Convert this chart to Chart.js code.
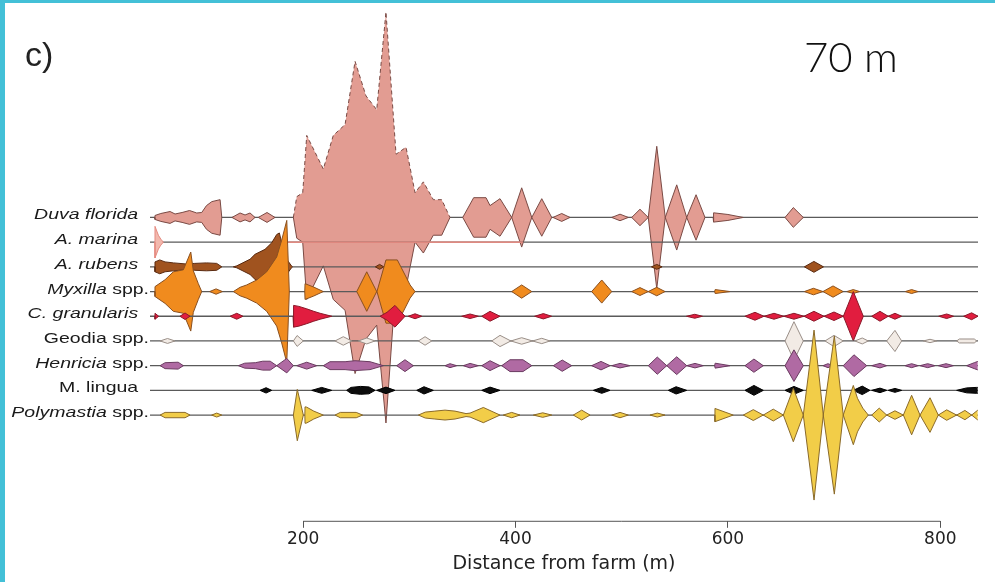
<!DOCTYPE html>
<html>
<head>
<meta charset="utf-8">
<script src="https://cdn.jsdelivr.net/npm/chart.js@4.4.1/dist/chart.umd.min.js"></script>
<style>
  html, body { margin: 0; padding: 0; background: #fff; }
  #kite { display: block; }
</style>
</head>
<body>
<canvas id="kite" width="995" height="582"></canvas>
<script>
// rows, top to bottom: italic part + plain part of each label
const labelItalic = ['Duva florida', 'A. marina', 'A. rubens', 'Myxilla', 'C. granularis', '', 'Henricia', '', 'Polymastia'];
const labelPlain = ['  ', '  ', '  ', ' spp.', '  ', 'Geodia spp.', ' spp.', 'M. lingua  ', ' spp.'];
const xTicks = [200, 400, 600, 800];
const xRange = [55.8, 835.5];
const panelLetter = 'c)';
const panelDepth = '70 m';

// [distance from farm (m), abundance] for each species
const duvaFlorida = [
  [60, 0], [60.5, 2], [66, 4], [74.7, 6], [79.4, 3.5], [86, 5], [93, 7], [99.8, 4.5], [104.5, 5], [109, 12], [114, 16], [121.8, 18], [123.4, 0],
  [133, 0], [140.6, 4.5], [145.3, 2.5], [150, 4.5], [154.7, 0],
  [157.8, 0], [166, 5], [173.5, 0],
  [190.8, 0], [194, 21], [199.6, 25], [203.4, 83], [219, 49], [228.4, 83], [239.5, 94], [248.9, 158], [259.2, 123], [269.3, 109], [278, 208],
  [287.5, 64], [296.9, 71], [305.4, 25], [313.2, 36], [322.6, 18], [330.5, 18], [338.3, 0],
  [350.3, 0], [360.6, 20], [372.2, 20], [376, 12], [385.4, 19], [396.4, 0], [405.8, 30], [415.3, 0], [424.7, 19], [434.1, 0],
  [435.3, 0], [443.5, 4], [451.3, 0],
  [490.6, 0], [498.4, 3.3], [506.2, 0],
  [509.4, 0], [517.2, 8.3], [525, 0], [533, 72], [541, 0], [551.8, 33], [561.2, 0], [570, 23], [578.4, 0],
  [586.1, 0], [586.5, 4.7], [600, 3], [614.4, 0],
  [653.8, 0], [661.6, 10], [671, 0]
];
const aMarina = [
  [60.4, 0], [60.5, 16], [63.7, 7], [66, 3], [68.4, 0],
  [186, 0], [186.5, 0.2], [406.5, 0.2], [407, 0]
];
const aRubens = [
  [60.4, 0], [60.5, 5], [65, 7], [70, 5], [78, 4], [89, 3], [98, 3.5], [109, 4], [118.6, 3.5], [123.4, 0],
  [134.3, 0], [137.5, 1], [150, 7.7], [154.7, 12.7], [164.1, 17.7], [170.4, 24.3], [175.1, 32.7], [177.6, 34.3], [183, 10], [189, 1], [190, 0],
  [268, 0], [272, 2.5], [276, 0],
  [528, 0], [533, 2.5], [538, 0],
  [672, 0], [681, 5.5], [690, 0]
];
const myxilla = [
  [60.4, 0], [60.5, 5], [70, 12], [77.8, 20], [87.2, 22], [94.2, 40], [96.6, 21], [101.3, 8], [104.5, 0],
  [112, 0], [118, 2.7], [124, 0],
  [134.3, 0], [140.6, 4.3], [146.9, 6.7], [156.3, 11.7], [165.7, 20], [175.1, 35], [179.8, 52], [184.6, 72], [187, 0],
  [201.5, 0], [201.8, 8], [210, 4.5], [219, 0],
  [250.5, 0], [259.9, 20], [269.3, 0],
  [269.5, 0], [278, 32], [288.7, 32], [296, 16.7], [300.7, 6.7], [305.4, 0],
  [396.4, 0], [405.8, 6.7], [415.3, 0],
  [471.7, 0], [481.2, 11.7], [490.6, 0],
  [509.4, 0], [517.2, 4], [525, 0], [533, 4.3], [540.8, 0],
  [587.5, 0], [588, 2], [602, 0],
  [672, 0], [680.5, 3.3], [689.5, 0], [699, 5.7], [708.5, 0],
  [712, 0], [718, 2], [724, 0],
  [767, 0], [773, 2], [779, 0]
];
const cGranularis = [
  [60.4, 0], [60.5, 3], [64, 0],
  [84, 0], [88.8, 3.3], [93.5, 0],
  [131.2, 0], [137.5, 3], [143.4, 0],
  [190.5, 0], [191, 11], [196, 10], [203.4, 7.5], [210, 5], [216, 3], [227, 0],
  [272.4, 0], [279, 4], [286.5, 11], [296, 0],
  [299, 0], [305.4, 2.5], [311.7, 0],
  [349.3, 0], [357.2, 2.3], [365, 0],
  [368.2, 0], [376, 5], [385.4, 0],
  [418, 0], [426.2, 2.7], [434, 0],
  [561, 0], [568.8, 2], [576, 0],
  [616, 0], [625.5, 4], [634, 0], [643.4, 3], [652.6, 0], [662.2, 3], [671.6, 0], [681, 5], [690.5, 0], [699.9, 4.3], [708.7, 0],
  [718.1, 25], [727.5, 0], [735.4, 0], [743.2, 5], [751, 0], [757.3, 3], [763.6, 0],
  [798.5, 0], [806, 2.3], [812.5, 0], [822, 0], [829.5, 3.5], [835.5, 0]
];
const geodia = [
  [65.3, 0], [72.3, 2.5], [79.4, 0],
  [190.8, 0], [194.3, 5.5], [200.2, 0],
  [230, 0], [237.8, 4.3], [245.8, 0],
  [252, 0], [259.9, 3], [267.7, 0],
  [308.5, 0], [314.8, 4.3], [321.1, 0],
  [377.6, 0], [385.4, 5.7], [395.6, 0], [405.8, 3.3], [416, 0], [424.7, 2.7], [432.5, 0],
  [653.8, 0], [662.2, 19.5], [671, 0],
  [691.4, 0], [699.9, 5.7], [708.6, 0],
  [719.6, 0], [726.5, 3], [732.2, 0],
  [749.5, 0], [757.3, 10.7], [763.6, 0],
  [784, 0], [790.3, 1.7], [796.6, 0],
  [815.4, 0], [818, 2], [832, 2], [834.3, 0]
];
const henricia = [
  [65.3, 0], [70, 3], [82.3, 3.5], [87.2, 0],
  [139, 0], [145, 2.5], [155, 3], [162, 4.5], [169, 4.5], [175.1, 0], [184.6, 7.3], [190.8, 0],
  [194, 0], [203.4, 3.5], [212.8, 0],
  [219, 0], [225.3, 4], [239.5, 4], [248.9, 5], [263, 4], [275.5, 0],
  [288.1, 0], [295.9, 6], [303.8, 0],
  [333.6, 0], [338.3, 2], [344.6, 0],
  [350.8, 0], [357.2, 2.3], [365, 0],
  [368.2, 0], [376, 5], [385.4, 0],
  [387, 0], [394.8, 6], [407, 6], [415.3, 0],
  [435.6, 0], [444, 5.7], [452.9, 0],
  [471.7, 0], [480.5, 4.3], [489, 0], [490.6, 0], [498.4, 2.3], [507.8, 0],
  [525, 0], [533.5, 8.7], [542.4, 0], [551.8, 9], [561.2, 0], [569, 2.3], [576.8, 0],
  [587.5, 0], [588, 2.5], [602, 0],
  [616.1, 0], [624.5, 6.7], [633.3, 0],
  [653.8, 0], [662.2, 16], [671, 0],
  [689.5, 0], [694.2, 2], [698.9, 0],
  [708.6, 0], [718.7, 11], [730.7, 0],
  [735.4, 0], [743.2, 2.3], [749.5, 0],
  [766.7, 0], [773, 2], [779.2, 0], [780.9, 0], [788.1, 2], [795, 0], [798.1, 0], [805.4, 2], [812.3, 0],
  [824.8, 0], [832, 3], [835.3, 4.3]
];
const mLingua = [
  [159.4, 0], [165.1, 2.7], [170.4, 0],
  [208.1, 0], [217.5, 3], [226.9, 0],
  [241, 0], [245, 3], [254, 4], [262, 3.5], [267.7, 0],
  [269.3, 0], [278, 3.3], [286.5, 0],
  [307, 0], [313.8, 3.7], [322.6, 0],
  [368.2, 0], [376, 3.3], [385.4, 0],
  [473.3, 0], [481.2, 3], [489, 0],
  [543.9, 0], [551.2, 3.7], [561.2, 0],
  [616.1, 0], [624.5, 5], [633.3, 0],
  [653.8, 0], [662.2, 4], [671, 0],
  [718.1, 0], [726.5, 4.3], [733.7, 0],
  [735.4, 0], [743.2, 2.3], [749.5, 0],
  [751, 0], [757.3, 2], [763.6, 0],
  [815.4, 0], [824.8, 2.5], [834.3, 3], [835.3, 3]
];
const polymastia = [
  [65.3, 0], [70, 2.7], [88.8, 2.7], [93.5, 0],
  [113.9, 0], [118.6, 2], [123.4, 0],
  [190.8, 0], [194.5, 26], [200.2, 0],
  [201.6, 0], [201.8, 8.3], [203.4, 8], [210, 4], [219, 0],
  [230, 0], [235, 2.7], [250, 2.7], [256, 0],
  [308.5, 0], [315, 3], [324, 4], [333.6, 5], [343, 4], [353.4, 1.5], [357.2, 2], [369.7, 7.7], [385.4, 0],
  [388.5, 0], [396.4, 2.7], [404.2, 0],
  [416.8, 0], [425.6, 2.3], [434.1, 0],
  [454.4, 0], [462.3, 5], [470.2, 0],
  [490.6, 0], [498.4, 2.7], [506.2, 0],
  [526.6, 0], [533.5, 2], [540.8, 0],
  [587.6, 0], [587.8, 6.7], [605, 0],
  [614.5, 0], [623.9, 5.5], [633.3, 0], [642.7, 6], [652.2, 0], [661.6, 27], [671, 0], [681.1, 86], [689.8, 0], [700.2, 80], [708.6, 0],
  [718.1, 30], [722, 17], [727, 7], [732.2, 0],
  [735.4, 0], [742.5, 7], [749.5, 0], [757.3, 4.3], [765.2, 0], [773, 20], [780.9, 0], [790.3, 17.5], [798.1, 0],
  [806, 5.3], [815.4, 0], [823.2, 4.7], [829.5, 0], [835.3, 5]
];

const kiteSeries = [duvaFlorida, aMarina, aRubens, myxilla, cGranularis, geodia, henricia, mLingua, polymastia];
const fillColors = ['#e29c92', '#f2b8ad', '#a0531f', '#f08b1e', '#e11d3f', '#f2ebe5', '#b06aa3', '#0d0d0d', '#f2cd48'];
const edgeColors = ['#7a4a44', '#e58a80', '#5a2a10', '#8a5020', '#8a1a2a', '#9a8f88', '#6a3a60', '#000000', '#8a6a2a'];
const rowGap = 25;

function rowBase(i) {
  return (kiteSeries.length - 1 - i) * rowGap;
}

const datasets = [];
kiteSeries.forEach(function(series, i) {
  const base = rowBase(i);
  const order = 1000 - i * 3;
  // hide outline where the kite is closed (both ends zero), so the gray baseline stays visible
  const edgeSeg = function(c) {
    if (series[c.p0DataIndex][1] === 0 && series[c.p1DataIndex][1] === 0) return 'rgba(0,0,0,0)';
    return undefined;
  };
  datasets.push({
    data: [{x: xRange[0], y: base}, {x: xRange[1], y: base}],
    borderColor: '#5a5a5a', borderWidth: 1.3, pointRadius: 0, fill: false, order: order
  });
  datasets.push({
    data: series.map(function(p) { return {x: p[0], y: base + p[1]}; }),
    borderColor: edgeColors[i], borderWidth: 1, pointRadius: 0, fill: false, order: order - 2,
    segment: {
      borderColor: edgeSeg,
      borderDash: function(c) {
        // the big Duva patch has a dashed outline in the original
        if (i === 0 && series[c.p0DataIndex][0] >= 190 && series[c.p1DataIndex][0] <= 339) return [4, 3];
        return undefined;
      }
    }
  });
  datasets.push({
    data: series.map(function(p) { return {x: p[0], y: base - p[1]}; }),
    borderColor: edgeColors[i], backgroundColor: fillColors[i], borderWidth: 1, pointRadius: 0,
    fill: '-1', order: order - 1,
    segment: { borderColor: edgeSeg }
  });
});

const decor = {
  id: 'decor',
  beforeDraw: function(chart) {
    const ctx = chart.ctx;
    ctx.save();
    ctx.fillStyle = '#ffffff';
    ctx.fillRect(0, 0, chart.width, chart.height);
    ctx.fillStyle = '#43c0d7';
    ctx.fillRect(0, 0, 5, chart.height);
    ctx.fillRect(0, 0, chart.width, 3);
    ctx.restore();
  },
  afterDraw: function(chart) {
    const ctx = chart.ctx;
    const xs = chart.scales.x;
    const ys = chart.scales.y;
    ctx.save();
    // axis line only between first and last tick, like R's axis()
    ctx.strokeStyle = '#555';
    ctx.lineWidth = 1;
    ctx.beginPath();
    ctx.moveTo(xs.getPixelForValue(xTicks[0]), xs.top + 0.5);
    ctx.lineTo(xs.getPixelForValue(xTicks[xTicks.length - 1]), xs.top + 0.5);
    ctx.stroke();

    // species names, italic genus + plain "spp."
    ctx.fillStyle = '#1a1a1a';
    ctx.textAlign = 'right';
    ctx.textBaseline = 'alphabetic';
    for (let i = 0; i < kiteSeries.length; i++) {
      const y = ys.getPixelForValue(rowBase(i)) + 2;
      ctx.save();
      ctx.translate(chart.chartArea.left - 1, y);
      ctx.scale(1.3, 1);
      ctx.font = '15px "Liberation Sans", Arial, sans-serif';
      const wPlain = ctx.measureText(labelPlain[i]).width;
      ctx.fillText(labelPlain[i], 0, 0);
      ctx.font = 'italic 15px "Liberation Sans", Arial, sans-serif';
      ctx.fillText(labelItalic[i], -wPlain, 0);
      ctx.restore();
    }

    ctx.textAlign = 'left';
    ctx.fillStyle = '#222';
    ctx.font = '34px "Liberation Sans", Arial, sans-serif';
    ctx.fillText(panelLetter, 25, 66);
    ctx.fillStyle = '#111';
    ctx.font = '300 42px Lato, "Open Sans", sans-serif';
    ctx.fillText(panelDepth, 804, 72);
    ctx.restore();
  }
};

new Chart(document.getElementById('kite'), {
  type: 'line',
  data: { datasets: datasets },
  options: {
    responsive: false,
    animation: false,
    devicePixelRatio: 1,
    events: [],
    layout: { padding: { left: 150, right: 17, top: 5, bottom: 5 } },
    plugins: { legend: { display: false }, tooltip: { enabled: false } },
    scales: {
      x: {
        type: 'linear',
        min: xRange[0],
        max: xRange[1],
        afterBuildTicks: function(scale) {
          scale.ticks = xTicks.map(function(v) { return {value: v}; });
        },
        border: { display: false },
        grid: { drawOnChartArea: false, drawTicks: true, tickLength: 7, color: '#555', tickColor: '#555' },
        ticks: { padding: 2, color: '#222', font: { family: '"DejaVu Sans"', size: 17 }, maxRotation: 0, autoSkip: false },
        title: {
          display: true,
          text: 'Distance from farm (m)',
          color: '#222',
          font: { family: '"DejaVu Sans"', size: 19 },
          padding: { top: 0, bottom: 2 }
        }
      },
      y: {
        type: 'linear',
        display: false,
        min: -107,
        max: 415
      }
    }
  },
  plugins: [decor]
});
</script>
</body>
</html>
